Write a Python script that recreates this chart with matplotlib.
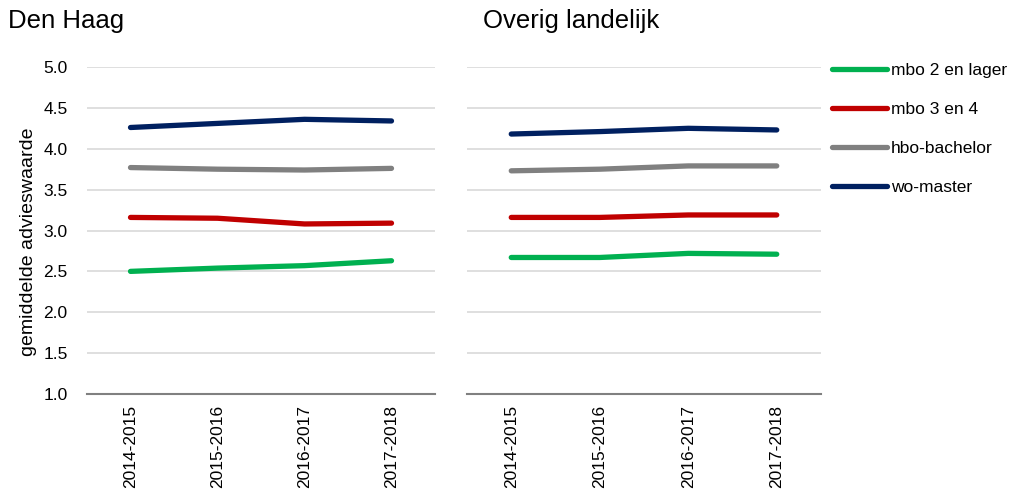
import matplotlib
matplotlib.use("Agg")
import matplotlib.pyplot as plt

plt.rcParams['font.family'] = ['Liberation Sans', 'DejaVu Sans']

# schooljaren
jaren = ["2014-2015", "2015-2016", "2016-2017", "2017-2018"]

# Den Haag
dh_mbo2 = [2.50, 2.54, 2.57, 2.63]
dh_mbo34 = [3.16, 3.15, 3.08, 3.09]
dh_hbo = [3.77, 3.75, 3.74, 3.76]
dh_wo = [4.26, 4.31, 4.36, 4.34]

# Overig landelijk
ol_mbo2 = [2.67, 2.67, 2.72, 2.71]
ol_mbo34 = [3.16, 3.16, 3.19, 3.19]
ol_hbo = [3.73, 3.75, 3.79, 3.79]
ol_wo = [4.18, 4.21, 4.25, 4.23]

labels = ["mbo 2 en lager", "mbo 3 en 4", "hbo-bachelor", "wo-master"]
kleuren = ["#00B050", "#C00000", "#808080", "#002060"]

fig = plt.figure(figsize=(10.18, 4.98), dpi=100)
ax1 = fig.add_axes([87/1018, 1-394/498, 348/1018, 327/498])
ax2 = fig.add_axes([467/1018, 1-394/498, 354/1018, 327/498])

x = list(range(len(jaren)))
for ax, reeksen in [(ax1, [dh_mbo2, dh_mbo34, dh_hbo, dh_wo]),
                    (ax2, [ol_mbo2, ol_mbo34, ol_hbo, ol_wo])]:
    for waarden, kleur, lab in zip(reeksen, kleuren, labels):
        ax.plot(x, waarden, color=kleur, lw=3.8, solid_capstyle='round', label=lab)
    ax.set_xlim(-0.5, 3.5)
    ax.set_ylim(1.0, 5.0)
    ax.set_yticks([1.0, 1.5, 2.0, 2.5, 3.0, 3.5, 4.0, 4.5, 5.0])
    ax.grid(axis='y', color='#D9D9D9', lw=1.2)
    ax.set_axisbelow(True)
    for s in ['top', 'right', 'left']:
        ax.spines[s].set_visible(False)
    ax.spines['bottom'].set_color('#808080')
    ax.spines['bottom'].set_linewidth(1.5)
    ax.set_xticks(x)
    ax.set_xticklabels(jaren, rotation=90, fontsize=12.5)
    ax.tick_params(axis='x', length=0, pad=8)
    ax.tick_params(axis='y', length=0, pad=14, labelsize=12.5)

ax1.yaxis.set_major_formatter(matplotlib.ticker.FormatStrFormatter('%.1f'))
ax2.set_yticklabels([])
ax1.set_ylabel("gemiddelde advieswaarde", fontsize=14)
ax1.yaxis.set_label_coords(-0.143, 0.465)

fig.text(8/1018, 1-9/498, "Den Haag", fontsize=18.5, va='top', ha='left')
fig.text(483/1018, 1-9/498, "Overig landelijk", fontsize=18.5, va='top', ha='left')

handles, labs = ax1.get_legend_handles_labels()
fig.legend(handles, labs, loc='upper left', bbox_to_anchor=(816/1018, 1-47/498),
           frameon=False, fontsize=12.5, handlelength=3.2, handletextpad=0.2,
           labelspacing=1.37)

fig.savefig("out.png", dpi=100)
